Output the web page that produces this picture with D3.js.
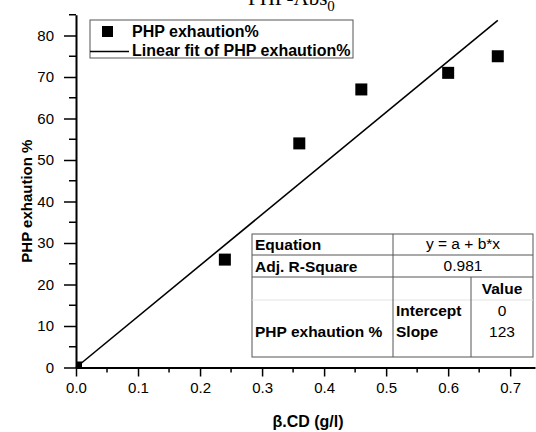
<!DOCTYPE html>
<html>
<head>
<meta charset="utf-8">
<script src="https://cdn.jsdelivr.net/npm/d3@7"></script>
<style>
  body { margin: 0; background: #fff; }
  text { font-family: "Liberation Sans", Arial, sans-serif; fill: #000; }
</style>
</head>
<body>
<div id="chart"></div>
<script>
// data
var cdValues = [0, 0.24, 0.36, 0.46, 0.6, 0.68];
var exhaustion = [0, 26, 54, 67, 71, 75];
var fitIntercept = 0, fitSlope = 123, fitAdjR2 = 0.981;
var xTicks = [0, 0.1, 0.2, 0.3, 0.4, 0.5, 0.6, 0.7];
var yTicks = [0, 10, 20, 30, 40, 50, 60, 70, 80];

var W = 536, H = 432;
var margin = {top: 14.75, right: 1, bottom: 64.5, left: 76},
    width = W - margin.left - margin.right,
    height = H - margin.top - margin.bottom;

var svg = d3.select('#chart').append('svg')
    .attr('width', W).attr('height', H);

// title, partly cut by the top edge as in the original
svg.append('text')
    .attr('x', 248).attr('y', 5)
    .style('font-family', '"Liberation Serif", "DejaVu Serif", serif')
    .style('font-size', '21px')
    .text('PHP-Abs')
    .append('tspan').attr('dy', 6).style('font-size', '15px').text('0');

var g = svg.append('g')
    .attr('transform', 'translate(' + margin.left + ',' + margin.top + ')');

var x = d3.scaleLinear().domain([0, 0.74]).range([0, width]);
var y = d3.scaleLinear().domain([0, 85]).range([height, 0]);

g.append('clipPath').attr('id', 'plotclip')
  .append('rect').attr('x', 0).attr('y', 0).attr('width', width).attr('height', height);

// minor ticks
var xMinor = d3.range(0.05, 0.74, 0.1);
var yMinor = d3.range(5, 86, 10);
g.selectAll('.xminor').data(xMinor).enter().append('line')
    .attr('x1', d => x(d)).attr('x2', d => x(d))
    .attr('y1', height).attr('y2', height + 5)
    .attr('stroke', '#000').attr('stroke-width', 1.5);
g.selectAll('.yminor').data(yMinor).enter().append('line')
    .attr('x1', -7).attr('x2', 0)
    .attr('y1', d => y(d)).attr('y2', d => y(d))
    .attr('stroke', '#000').attr('stroke-width', 1.5);

var xAxis = d3.axisBottom(x).tickValues(xTicks).tickFormat(d3.format('.1f'))
    .tickSize(9).tickSizeOuter(0).tickPadding(6);
var yAxis = d3.axisLeft(y).tickValues(yTicks).tickFormat(d3.format('d'))
    .tickSize(12).tickSizeOuter(0).tickPadding(10);

var gx = g.append('g').attr('transform', 'translate(0,' + height + ')').call(xAxis);
var gy = g.append('g').call(yAxis);
[gx, gy].forEach(function (a) {
    a.select('.domain').attr('stroke', '#000').attr('stroke-width', 2);
    a.selectAll('.tick line').attr('stroke', '#000').attr('stroke-width', 1.5);
    a.selectAll('.tick text').style('font-size', '15px')
        .style('font-family', '"Liberation Sans", Arial, sans-serif');
});

// fit line
var fitX = [0, d3.max(cdValues)];
g.append('path')
    .datum(fitX)
    .attr('d', d3.line().x(d => x(d)).y(d => y(fitIntercept + fitSlope * d)))
    .attr('fill', 'none').attr('stroke', '#000').attr('stroke-width', 1.6);

// points
var pts = cdValues.map((d, i) => ({x: d, y: exhaustion[i]}));
g.append('g').attr('clip-path', 'url(#plotclip)')
  .selectAll('rect').data(pts).enter().append('rect')
    .attr('x', d => x(d.x) - 6).attr('y', d => y(d.y) - 6)
    .attr('width', 12).attr('height', 12)
    .attr('fill', '#000');

// axis titles
svg.append('text')
    .attr('transform', 'translate(32,' + (margin.top + height / 2 + 10) + ') rotate(-90)')
    .attr('text-anchor', 'middle')
    .style('font-size', '15px').style('font-weight', 'bold')
    .text('PHP exhaution %');
svg.append('text')
    .attr('x', 308).attr('y', 427)
    .attr('text-anchor', 'middle')
    .style('font-size', '16px').style('font-weight', 'bold')
    .text('\u03b2.CD (g/l)');

// legend
var leg = svg.append('g');
leg.append('rect').attr('x', 90).attr('y', 20).attr('width', 263).attr('height', 38)
    .attr('fill', '#fff').attr('stroke', '#555').attr('stroke-width', 1);
leg.append('rect').attr('x', 102).attr('y', 26).attr('width', 11).attr('height', 11).attr('fill', '#000');
leg.append('line').attr('x1', 90).attr('x2', 129).attr('y1', 51.5).attr('y2', 51.5)
    .attr('stroke', '#000').attr('stroke-width', 1.5);
leg.append('text').attr('x', 132).attr('y', 36.5).style('font-size', '16px').style('font-weight', 'bold')
    .text('PHP exhaution%');
leg.append('text').attr('x', 132).attr('y', 55.5).style('font-size', '16px').style('font-weight', 'bold')
    .text('Linear fit of PHP exhaution%');

// fit results table
var tb = svg.append('g');
var tl = 252, tr = 533, c1 = 393, c2 = 471;
var rows = [234, 255, 277, 300, 357];
tb.append('rect').attr('x', tl).attr('y', rows[0]).attr('width', tr - tl).attr('height', rows[4] - rows[0])
    .attr('fill', '#fff').attr('stroke', '#555');
[rows[1], rows[2]].forEach(function (r) {
    tb.append('line').attr('x1', tl).attr('x2', tr).attr('y1', r).attr('y2', r).attr('stroke', '#555');
});
tb.append('line').attr('x1', tl).attr('x2', tr).attr('y1', rows[3]).attr('y2', rows[3]).attr('stroke', '#e4e4e4');
tb.append('line').attr('x1', c1).attr('x2', c1).attr('y1', rows[0]).attr('y2', rows[4]).attr('stroke', '#555');
tb.append('line').attr('x1', c2).attr('x2', c2).attr('y1', rows[2]).attr('y2', rows[4]).attr('stroke', '#555');

function cell(txt, xx, yy, anchor, bold) {
    tb.append('text').attr('x', xx).attr('y', yy).attr('text-anchor', anchor)
        .style('font-size', '15.5px').style('font-weight', bold ? 'bold' : 'normal').text(txt);
}
cell('Equation', 255, 250, 'start', true);
cell('y = a + b*x', (c1 + tr) / 2, 249, 'middle', false);
cell('Adj. R-Square', 255, 272, 'start', true);
cell(d3.format('.3f')(fitAdjR2), (c1 + tr) / 2, 271, 'middle', false);
cell('Value', (c2 + tr) / 2, 294, 'middle', true);
cell('Intercept', 396, 316, 'start', true);
cell('Slope', 396, 337, 'start', true);
cell(String(fitIntercept), (c2 + tr) / 2, 316, 'middle', false);
cell(String(fitSlope), (c2 + tr) / 2, 337, 'middle', false);
cell('PHP exhaution %', 255, 337, 'start', true);
</script>
</body>
</html>
